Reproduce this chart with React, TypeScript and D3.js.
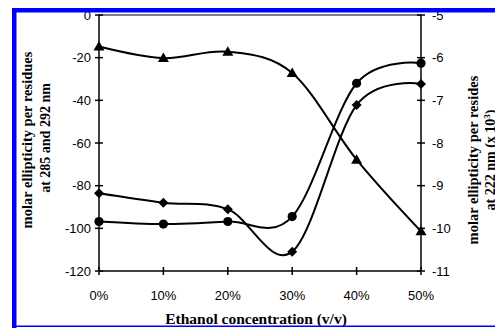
import React from 'react';
import * as d3 from 'd3';

const categories = ['0%', '10%', '20%', '30%', '40%', '50%'];
// left axis series (285 and 292 nm)
const circleSeries = [-96.8, -98, -96.8, -94.5, -32, -22.6];
const diamondSeries = [-83.6, -88, -91, -111, -42.2, -32.3];
// right axis series (222 nm, x 10^3)
const triangleSeries = [-5.74, -6.01, -5.86, -6.36, -8.39, -10.07];
const leftTicks = [0, -20, -40, -60, -80, -100, -120];
const rightTicks = [-5, -6, -7, -8, -9, -10, -11];

const W = 495;
const H = 328;
const L = 99, R = 421, T = 15, B = 271;

export default function App() {
  const x = d3.scalePoint<string>().domain(categories).range([L, R]);
  const yL = d3.scaleLinear().domain([-120, 0]).range([B, T]);
  const yR = d3.scaleLinear().domain([-11, -5]).range([B, T]);
  const curve = d3.curveCatmullRom.alpha(0);
  const lineL = d3.line<number>().x((_, i) => x(categories[i])!).y(d => yL(d)).curve(curve);
  const lineR = d3.line<number>().x((_, i) => x(categories[i])!).y(d => yR(d)).curve(curve);
  const tick = 4;
  const sans = 'Liberation Sans, Arial, sans-serif';
  const serif = 'Liberation Serif, Times New Roman, serif';

  return (
    <svg width={W} height={H} style={{ position: 'absolute', left: 0, top: 0, background: '#fff' }}>
      <rect x={0} y={0} width={W} height={H} fill="#fff" />
      {/* plot top border */}
      <line x1={L} x2={R} y1={T} y2={T} stroke="#000" strokeWidth={1} />
      {/* left axis */}
      <line x1={L} x2={L} y1={T} y2={B} stroke="#000" strokeWidth={1.5} />
      {leftTicks.map(t => (
        <g key={'l' + t}>
          <line x1={L - tick} x2={L + tick} y1={yL(t)} y2={yL(t)} stroke="#000" strokeWidth={1.5} />
          <text x={L - 8} y={yL(t)} dy="0.36em" textAnchor="end" fontFamily={sans} fontSize={13}>{t}</text>
        </g>
      ))}
      {/* right axis */}
      <line x1={R} x2={R} y1={T} y2={B} stroke="#000" strokeWidth={1.5} />
      {rightTicks.map(t => (
        <g key={'r' + t}>
          <line x1={R - tick} x2={R + tick} y1={yR(t)} y2={yR(t)} stroke="#000" strokeWidth={1.5} />
          <text x={R + 11} y={yR(t)} dy="0.36em" textAnchor="start" fontFamily={sans} fontSize={13}>{t}</text>
        </g>
      ))}
      {/* x axis */}
      <line x1={L} x2={R} y1={B} y2={B} stroke="#000" strokeWidth={1.5} />
      {categories.map(c => (
        <g key={c}>
          <line x1={x(c)!} x2={x(c)!} y1={B - tick} y2={B + tick} stroke="#000" strokeWidth={1.5} />
          <text x={x(c)!} y={300} textAnchor="middle" fontFamily={sans} fontSize={13}>{c}</text>
        </g>
      ))}
      {/* series lines */}
      <path d={lineR(triangleSeries)!} fill="none" stroke="#000" strokeWidth={2} />
      <path d={lineL(circleSeries)!} fill="none" stroke="#000" strokeWidth={2} />
      <path d={lineL(diamondSeries)!} fill="none" stroke="#000" strokeWidth={2} />
      {/* markers */}
      {triangleSeries.map((v, i) => {
        const cx = x(categories[i])!, cy = yR(v);
        return <path key={'t' + i} d={`M${cx},${cy - 5.5}L${cx + 5.5},${cy + 4}L${cx - 5.5},${cy + 4}Z`} fill="#000" />;
      })}
      {circleSeries.map((v, i) => (
        <circle key={'c' + i} cx={x(categories[i])!} cy={yL(v)} r={4.6} fill="#000" />
      ))}
      {diamondSeries.map((v, i) => {
        const cx = x(categories[i])!, cy = yL(v);
        return <path key={'d' + i} d={`M${cx},${cy - 5}L${cx + 5},${cy}L${cx},${cy + 5}L${cx - 5},${cy}Z`} fill="#000" />;
      })}
      {/* axis titles */}
      <g transform="translate(27,140) rotate(-90)">
        <text textAnchor="middle" dy="0.35em" fontFamily={serif} fontWeight="bold" fontSize={14.5}>molar ellipticity per residues</text>
      </g>
      <g transform="translate(45,138) rotate(-90)">
        <text textAnchor="middle" dy="0.35em" fontFamily={serif} fontWeight="bold" fontSize={14}>at 285 and 292 nm</text>
      </g>
      <g transform="translate(473,160) rotate(-90)">
        <text textAnchor="middle" dy="0.35em" fontFamily={serif} fontWeight="bold" fontSize={14.5}>molar ellipticity per resides</text>
      </g>
      <g transform="translate(490,160) rotate(-90)">
        <text textAnchor="middle" dy="0.35em" fontFamily={serif} fontWeight="bold" fontSize={14}>at 222 nm (x 10<tspan dy="-5" fontSize={9}>3</tspan><tspan dy="5">)</tspan></text>
      </g>
      <text x={256} y={324} textAnchor="middle" fontFamily={serif} fontWeight="bold" fontSize={15.5}>Ethanol concentration (v/v)</text>
      {/* blue frame */}
      <rect x={12} y={8} width={W - 12} height={4.5} fill="#0000ff" />
      <rect x={12} y={8} width={4.5} height={H - 8} fill="#0000ff" />
      <rect x={12} y={325.5} width={W - 12} height={1.5} fill="#0000ff" />
    </svg>
  );
}
